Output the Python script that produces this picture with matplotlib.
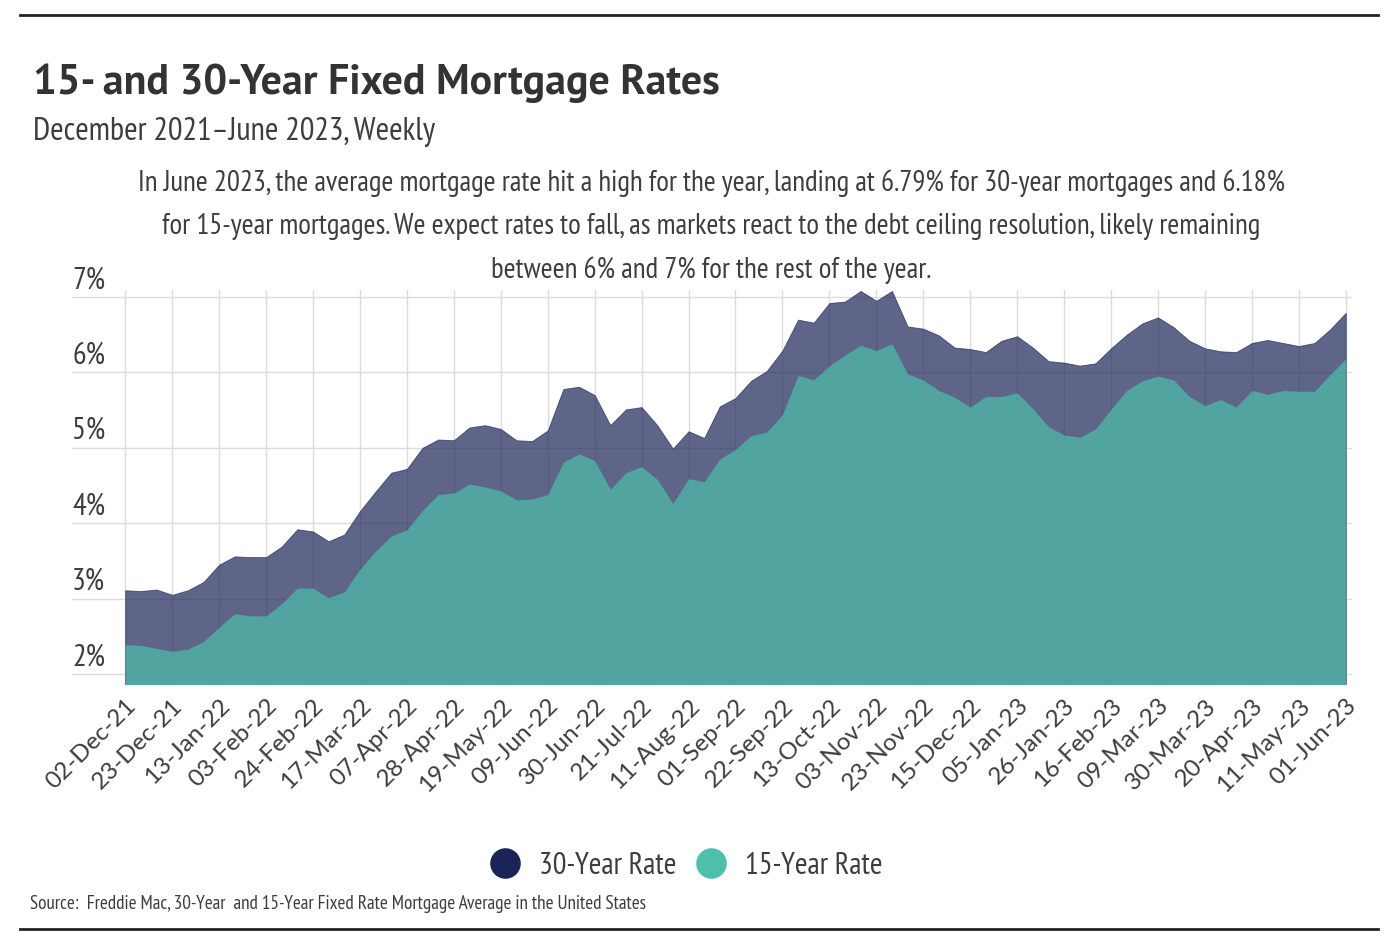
import matplotlib
matplotlib.use("Agg")
import matplotlib.pyplot as plt
from matplotlib.lines import Line2D
import numpy as np

# Freddie Mac PMMS weekly averages, 02-Dec-21 .. 01-Jun-23
dates = [
    "02-Dec-21", "09-Dec-21", "16-Dec-21", "23-Dec-21", "30-Dec-21",
    "06-Jan-22", "13-Jan-22", "20-Jan-22", "27-Jan-22",
    "03-Feb-22", "10-Feb-22", "17-Feb-22", "24-Feb-22",
    "03-Mar-22", "10-Mar-22", "17-Mar-22", "24-Mar-22", "31-Mar-22",
    "07-Apr-22", "14-Apr-22", "21-Apr-22", "28-Apr-22",
    "05-May-22", "12-May-22", "19-May-22", "26-May-22",
    "02-Jun-22", "09-Jun-22", "16-Jun-22", "23-Jun-22", "30-Jun-22",
    "07-Jul-22", "14-Jul-22", "21-Jul-22", "28-Jul-22",
    "04-Aug-22", "11-Aug-22", "18-Aug-22", "25-Aug-22",
    "01-Sep-22", "08-Sep-22", "15-Sep-22", "22-Sep-22", "29-Sep-22",
    "06-Oct-22", "13-Oct-22", "20-Oct-22", "27-Oct-22",
    "03-Nov-22", "10-Nov-22", "17-Nov-22", "23-Nov-22",
    "01-Dec-22", "08-Dec-22", "15-Dec-22", "22-Dec-22", "29-Dec-22",
    "05-Jan-23", "12-Jan-23", "19-Jan-23", "26-Jan-23",
    "02-Feb-23", "09-Feb-23", "16-Feb-23", "23-Feb-23",
    "02-Mar-23", "09-Mar-23", "16-Mar-23", "23-Mar-23", "30-Mar-23",
    "06-Apr-23", "13-Apr-23", "20-Apr-23", "27-Apr-23",
    "04-May-23", "11-May-23", "18-May-23", "25-May-23",
    "01-Jun-23",
]

rate_30 = [
    3.11, 3.10, 3.12, 3.05, 3.11,
    3.22, 3.45, 3.56, 3.55,
    3.55, 3.69, 3.92, 3.89,
    3.76, 3.85, 4.16, 4.42, 4.67,
    4.72, 5.00, 5.11, 5.10,
    5.27, 5.30, 5.25, 5.10,
    5.09, 5.23, 5.78, 5.81, 5.70,
    5.30, 5.51, 5.54, 5.30,
    4.99, 5.22, 5.13, 5.55,
    5.66, 5.89, 6.02, 6.29, 6.70,
    6.66, 6.92, 6.94, 7.08,
    6.95, 7.08, 6.61, 6.58,
    6.49, 6.33, 6.31, 6.27, 6.42,
    6.48, 6.33, 6.15, 6.13,
    6.09, 6.12, 6.32, 6.50,
    6.65, 6.73, 6.60, 6.42, 6.32,
    6.28, 6.27, 6.39, 6.43,
    6.39, 6.35, 6.39, 6.57,
    6.79,
]

rate_15 = [
    2.39, 2.38, 2.34, 2.30, 2.33,
    2.43, 2.62, 2.80, 2.77,
    2.77, 2.93, 3.14, 3.14,
    3.01, 3.09, 3.39, 3.63, 3.83,
    3.91, 4.17, 4.38, 4.40,
    4.52, 4.48, 4.43, 4.31,
    4.32, 4.38, 4.81, 4.92, 4.83,
    4.45, 4.67, 4.75, 4.58,
    4.26, 4.59, 4.55, 4.85,
    4.98, 5.16, 5.21, 5.44, 5.96,
    5.90, 6.09, 6.23, 6.36,
    6.29, 6.38, 5.98, 5.90,
    5.76, 5.67, 5.54, 5.68, 5.68,
    5.73, 5.52, 5.28, 5.17,
    5.14, 5.25, 5.51, 5.76,
    5.89, 5.95, 5.90, 5.68, 5.56,
    5.64, 5.54, 5.76, 5.71,
    5.76, 5.75, 5.75, 5.97,
    6.18,
]

y_ticks = [2, 3, 4, 5, 6, 7]

title = "15- and 30-Year Fixed Mortgage Rates"
subtitle = "December 2021\u2013June 2023, Weekly"
note = ("In June 2023, the average mortgage rate hit a high for the year, landing at 6.79% for 30-year mortgages and 6.18%\n"
        "for 15-year mortgages. We expect rates to fall, as markets react to the debt ceiling resolution, likely remaining\n"
        "between 6% and 7% for the rest of the year.")
source = "Source:  Freddie Mac, 30-Year  and 15-Year Fixed Rate Mortgage Average in the United States"

NAVY = "#1a2456"
TEAL = "#4ebfab"
GRID = "#dcdcdc"
TXT = "#3d3d3d"
NARROW = ["PT Sans Narrow", "Fira Sans Condensed", "DejaVu Sans"]
BOLD = ["PT Sans", "Lato", "DejaVu Sans"]
TICKF = ["Lato", "DejaVu Sans"]

W, H = 1388, 940
fig = plt.figure(figsize=(W / 100, H / 100), dpi=100)
ax = fig.add_axes([72 / W, 1 - 684 / H, 1280 / W, (684 - 290) / H])

x = np.arange(len(dates))
ax.fill_between(x, 0, rate_30, color=NAVY, alpha=0.7, lw=0.6, zorder=2)
ax.fill_between(x, 0, rate_15, color=TEAL, alpha=0.7, lw=0, zorder=3)

ax.set_xlim(-3.4, 78.4)
ax.set_ylim(1.867, 7.093)

tick_idx = x[::3]
ax.set_xticks(tick_idx)
ax.set_xticklabels([dates[i] for i in tick_idx], rotation=45, ha="right",
                   va="top", rotation_mode="anchor", family=TICKF,
                   fontsize=17.5, color=TXT)
ax.tick_params(axis="x", length=0, pad=8)
ax.set_yticks(y_ticks)
ax.set_yticklabels([])
ax.tick_params(axis="y", length=0)

for v in y_ticks:
    ax.axhline(v, color=GRID, lw=1, zorder=1)
    ax.annotate(f"{v}%", xy=(0, v), xycoords=("axes fraction", "data"),
                xytext=(0, 2), textcoords="offset points", ha="left",
                va="bottom", family=NARROW, fontsize=22, color=TXT)
for i in tick_idx:
    ax.axvline(i, color=GRID, lw=1, zorder=1)

for s in ax.spines.values():
    s.set_visible(False)

fig.text(33 / W, 1 - 94 / H, title, fontsize=30.2, fontweight="bold",
         family=BOLD, color="#333333", va="baseline")
fig.text(33 / W, 1 - 132 / H, subtitle, fontsize=23.4, family=NARROW,
         color=TXT, va="center")
fig.text(711 / W, 1 - 227 / H, note, fontsize=20.8, family=NARROW,
         color=TXT, ha="center", va="center", multialignment="center",
         linespacing=1.77)
fig.text(30 / W, 1 - 904 / H, source, fontsize=13.8, family=NARROW,
         color=TXT, va="center")

handles = [
    Line2D([], [], ls="", marker="o", markersize=21, color=NAVY),
    Line2D([], [], ls="", marker="o", markersize=21, color=TEAL),
]
fig.legend(handles, ["30-Year Rate", "15-Year Rate"], loc="center",
           bbox_to_anchor=(683 / W, 1 - 866 / H), ncol=2, frameon=False,
           prop={"family": NARROW, "size": 22}, handletextpad=0.4,
           columnspacing=0.45, handlelength=1.4, labelcolor=TXT)

fig.add_artist(Line2D([20 / W, 1378 / W], [1 - 15 / H, 1 - 15 / H],
                      color="#222222", lw=2))
fig.add_artist(Line2D([20 / W, 1378 / W], [1 - 929 / H, 1 - 929 / H],
                      color="#222222", lw=2))

fig.savefig("out.png", dpi=100, facecolor="white")
